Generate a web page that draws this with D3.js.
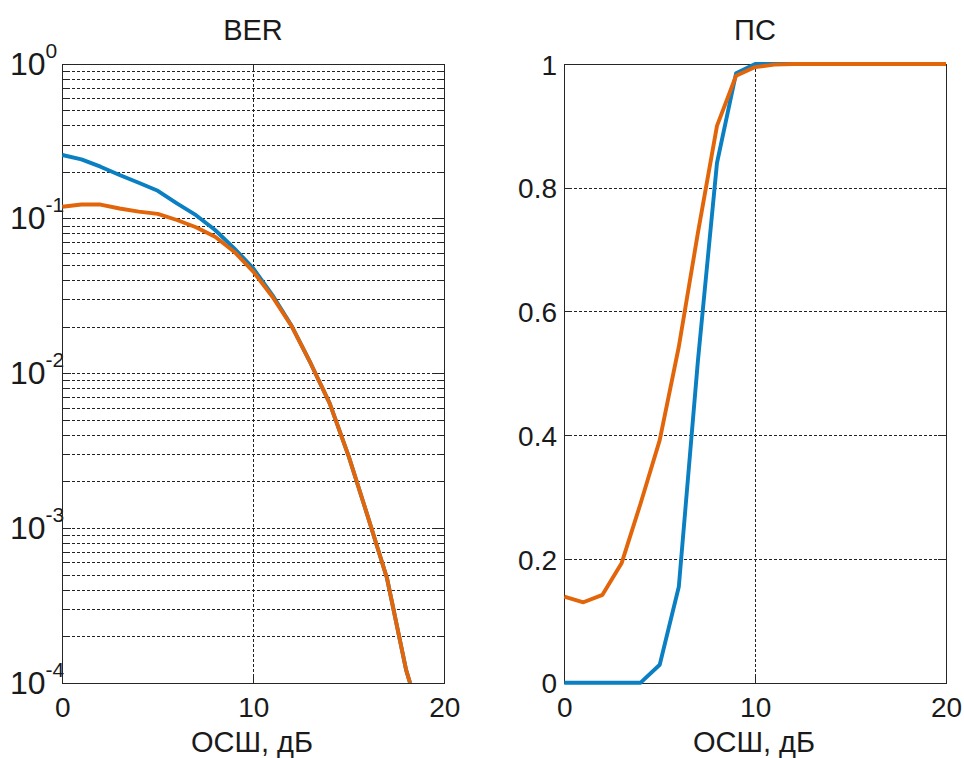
<!DOCTYPE html>
<html>
<head>
<meta charset="utf-8">
<script src="https://cdn.jsdelivr.net/npm/d3@7"></script>
<style>
  body { margin: 0; background: #fff; }
  text { font-family: "Liberation Sans", Arial, sans-serif; fill: #1a1a1a; }
  .grid line { stroke: #222; stroke-width: 1; stroke-dasharray: 3,2; shape-rendering: crispEdges; }
  .axis path { display: none; }
  .axis line { stroke: #262626; shape-rendering: crispEdges; }
</style>
</head>
<body>
<svg id="chart" width="964" height="758"></svg>
<script>
// --- data ---
var snrBer = [0, 1, 2, 3, 4, 5, 6, 7, 8, 9, 10, 11, 12, 13, 14, 15, 16, 17, 18, 19];
var berBlue = [0.257, 0.241, 0.216, 0.191, 0.170, 0.151, 0.125, 0.105, 0.0842, 0.0641,
  0.0476, 0.0320, 0.0203, 0.0116, 0.00638, 0.00289, 0.00118, 4.73e-4, 1.21e-4, 4.7e-5];
var berOrange = [0.119, 0.123, 0.123, 0.116, 0.1106, 0.107, 0.0977, 0.0877, 0.0762, 0.0610,
  0.0453, 0.0312, 0.0202, 0.0116, 0.00638, 0.00289, 0.00118, 4.73e-4, 1.21e-4, 4.7e-5];

var snrPs = [0, 1, 2, 3, 4, 5, 6, 7, 8, 9, 10, 11, 12, 13, 14, 15, 16, 17, 18, 19, 20];
var psBlue = [0, 0, 0, 0, 0, 0.029, 0.155, 0.52, 0.84, 0.985, 1, 1, 1, 1, 1, 1, 1, 1, 1, 1, 1];
var psOrange = [0.139, 0.130, 0.142, 0.193, 0.290, 0.392, 0.543, 0.727, 0.900, 0.981, 0.995,
  0.999, 1, 1, 1, 1, 1, 1, 1, 1, 1];

var xTicks = [0, 10, 20];
var psTicks = [0, 0.2, 0.4, 0.6, 0.8, 1];
var berDecades = [1e-4, 1e-3, 1e-2, 1e-1, 1];
var titles = ["BER", "ПС"];
var xLabel = "ОСШ, дБ";

var blue = "#0a7fc2";
var orange = "#e2650a";

var svg = d3.select("#chart");

// --- left: BER (log) ---
var x1 = d3.scaleLinear().domain([0, 20]).range([62.3, 444.3]);
var y1 = d3.scaleLog().domain([1e-4, 1]).range([682.7, 63.7]);

// --- right: ПС ---
var x2 = d3.scaleLinear().domain([0, 20]).range([564.3, 946]);
var y2 = d3.scaleLinear().domain([0, 1]).range([682.7, 64]);

function drawFrame(x, y, yGridVals) {
  var g = svg.append("g").attr("class", "grid");
  var x0 = x.range()[0], xe = x.range()[1];
  var yb = y.range()[0], yt = y.range()[1];
  g.selectAll("line.h")
    .data(yGridVals)
    .enter().append("line")
      .attr("x1", x0).attr("x2", xe)
      .attr("y1", function(d) { return Math.round(y(d)) + 0.5; })
      .attr("y2", function(d) { return Math.round(y(d)) + 0.5; });
  g.append("line")
    .attr("x1", Math.round(x(10)) + 0.5).attr("x2", Math.round(x(10)) + 0.5)
    .attr("y1", yt).attr("y2", yb);
}

function drawBox(x, y) {
  svg.append("rect")
    .attr("x", Math.round(x.range()[0]) + 0.5)
    .attr("y", Math.round(y.range()[1]) + 0.5)
    .attr("width", Math.round(x.range()[1] - x.range()[0]))
    .attr("height", Math.round(y.range()[0] - y.range()[1]))
    .attr("fill", "none")
    .attr("stroke", "#262626")
    .attr("stroke-width", 1)
    .attr("shape-rendering", "crispEdges");
}

// grids
var berGrid = y1.ticks().filter(function(d) { return d < 1; });
drawFrame(x1, y1, berGrid);
drawFrame(x2, y2, [0.2, 0.4, 0.6, 0.8]);

// ticks (inward), via d3 axes
function xAxes(x, y) {
  svg.append("g").attr("class", "axis")
    .attr("transform", "translate(0," + Math.round(y.range()[0]) + ")")
    .call(d3.axisBottom(x).tickValues(xTicks).tickSize(-8).tickPadding(14).tickFormat(d3.format("d")))
    .selectAll("text").attr("font-size", 28).attr("dy", "0.71em").attr("fill", "#1a1a1a");
  svg.append("g").attr("class", "axis")
    .attr("transform", "translate(0," + Math.round(y.range()[1]) + ")")
    .call(d3.axisTop(x).tickValues(xTicks).tickSize(-8).tickFormat(""));
}
xAxes(x1, y1);
xAxes(x2, y2);

// left y ticks: minor + major
svg.append("g").attr("class", "axis").attr("transform", "translate(" + Math.round(x1.range()[0]) + ",0)")
  .call(d3.axisLeft(y1).tickValues(berGrid).tickSize(-5).tickFormat(""));
svg.append("g").attr("class", "axis").attr("transform", "translate(" + Math.round(x1.range()[1]) + ",0)")
  .call(d3.axisRight(y1).tickValues(berGrid).tickSize(-5).tickFormat(""));
svg.append("g").attr("class", "axis").attr("transform", "translate(" + Math.round(x1.range()[0]) + ",0)")
  .call(d3.axisLeft(y1).tickValues(berDecades).tickSize(-9).tickFormat(""));
svg.append("g").attr("class", "axis").attr("transform", "translate(" + Math.round(x1.range()[1]) + ",0)")
  .call(d3.axisRight(y1).tickValues(berDecades).tickSize(-9).tickFormat(""));

// left y labels 10^k
var decLabels = svg.append("g").selectAll("text")
  .data(berDecades)
  .enter().append("text")
    .attr("x", 10)
    .attr("y", function(d) { return y1(d) + 11; })
    .attr("font-size", 32);
decLabels.append("tspan").text("10");
decLabels.append("tspan")
  .attr("dy", -17)
  .attr("font-size", 21)
  .text(function(d) { return Math.round(Math.log10(d)); });

// right y ticks + labels
svg.append("g").attr("class", "axis").attr("transform", "translate(" + Math.round(x2.range()[0]) + ",0)")
  .call(d3.axisLeft(y2).tickValues(psTicks).tickSize(-8).tickPadding(7).tickFormat(d3.format("")))
  .selectAll("text").attr("font-size", 28).attr("dy", "0.36em").attr("fill", "#1a1a1a");
svg.append("g").attr("class", "axis").attr("transform", "translate(" + Math.round(x2.range()[1]) + ",0)")
  .call(d3.axisRight(y2).tickValues(psTicks).tickSize(-8).tickFormat(""));

drawBox(x1, y1);
drawBox(x2, y2);

// lines
svg.append("clipPath").attr("id", "clipL")
  .append("rect")
    .attr("x", x1.range()[0] - 3).attr("y", y1.range()[1] - 3)
    .attr("width", x1.range()[1] - x1.range()[0] + 6)
    .attr("height", y1.range()[0] - y1.range()[1] + 3);

function drawLine(xs, ys, x, y, color, clip) {
  var line = d3.line()
    .x(function(d, i) { return x(xs[i]); })
    .y(function(d) { return y(d); });
  var p = svg.append("path")
    .datum(ys)
    .attr("d", line)
    .attr("fill", "none")
    .attr("stroke", color)
    .attr("stroke-width", 3.9)
    .attr("stroke-linejoin", "round");
  if (clip) p.attr("clip-path", "url(#" + clip + ")");
}

drawLine(snrBer, berBlue, x1, y1, blue, "clipL");
drawLine(snrBer, berOrange, x1, y1, orange, "clipL");
drawLine(snrPs, psBlue, x2, y2, blue);
drawLine(snrPs, psOrange, x2, y2, orange);

// titles and labels
svg.append("text").attr("x", 253).attr("y", 40).attr("text-anchor", "middle").attr("font-size", 29).text(titles[0]);
svg.append("text").attr("x", 755).attr("y", 40).attr("text-anchor", "middle").attr("font-size", 29).text(titles[1]);
svg.append("text").attr("x", 252).attr("y", 752).attr("text-anchor", "middle").attr("font-size", 29).text(xLabel);
svg.append("text").attr("x", 754).attr("y", 752).attr("text-anchor", "middle").attr("font-size", 29).text(xLabel);
</script>
</body>
</html>
